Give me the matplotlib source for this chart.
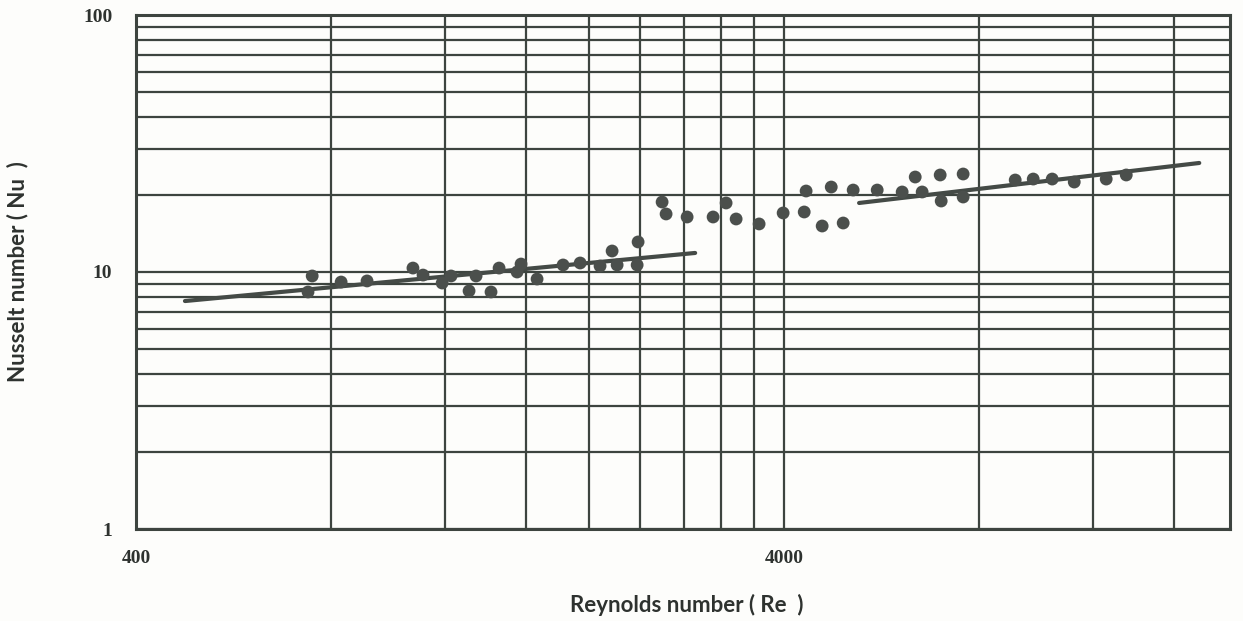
import numpy as np
import matplotlib
matplotlib.use("Agg")
import matplotlib.pyplot as plt
from matplotlib.ticker import FixedLocator, NullFormatter, FixedFormatter

# measured points (Re, Nu)
re_pts = [737, 748, 829, 909, 1070, 1109, 1187, 1225, 1306, 1339,
          1412, 1453, 1549, 1571, 1663, 1824, 1938, 2080, 2171, 2210,
          2381, 2373, 2593, 2630, 2834, 3108, 3255, 3373, 3660, 3986,
          4296, 4325, 4579, 4729, 4934, 5112, 5568, 6084, 6373, 6532,
          6964, 6989, 7556, 7556, 9091, 9692, 10368, 11213, 12561, 13489]
nu_pts = [8.36, 9.65, 9.14, 9.23, 10.36, 9.73, 9.06, 9.65, 8.44, 9.65,
          8.36, 10.36, 10.0, 10.74, 9.39, 10.65, 10.84, 10.55, 12.07, 10.65,
          13.09, 10.65, 18.72, 16.82, 16.37, 16.37, 18.56, 16.08, 15.38, 16.97,
          17.12, 20.66, 15.10, 21.41, 15.51, 20.84, 20.84, 20.48, 23.42, 20.48,
          23.85, 18.89, 24.06, 19.58, 22.80, 23.0, 23.0, 22.39, 23.0, 23.85]

# correlation lines, laminar and turbulent range
lam_re = [476, 2916]
lam_nu = [7.71, 11.86]
turb_re = [5221, 17482]
turb_nu = [18.56, 26.56]

x_major = [400, 4000]
x_minor = [800, 1200, 1600, 2000, 2400, 2800, 3200, 3600, 8000, 12000, 16000]
y_major = [1, 10, 100]

ink = '#3d443f'

fig = plt.figure(figsize=(12.43, 6.21), dpi=100)
fig.patch.set_facecolor('#fdfdfb')
ax = fig.add_axes([136/1243, 92/621, (1230-136)/1243, (529-15)/621])
ax.set_facecolor('#fdfdfb')

ax.set_xscale('log')
ax.set_yscale('log')
ax.set_xlim(400, 19500)
ax.set_ylim(1, 100)

ax.xaxis.set_major_locator(FixedLocator(x_major))
ax.xaxis.set_major_formatter(FixedFormatter([str(v) for v in x_major]))
ax.xaxis.set_minor_locator(FixedLocator(x_minor))
ax.xaxis.set_minor_formatter(NullFormatter())
ax.yaxis.set_major_locator(FixedLocator(y_major))
ax.yaxis.set_major_formatter(FixedFormatter([str(v) for v in y_major]))
ax.yaxis.set_minor_locator(FixedLocator([k * d for d in (1, 10) for k in range(2, 10)]))
ax.yaxis.set_minor_formatter(NullFormatter())

ax.grid(True, which='both', color=ink, lw=1.6)
ax.tick_params(which='both', length=0)
ax.tick_params(axis='y', pad=17)
ax.tick_params(axis='x', pad=15)
for lab in ax.get_xticklabels() + ax.get_yticklabels():
    lab.set_fontfamily('Liberation Serif')
    lab.set_fontweight('bold')
    lab.set_fontsize(14)
    lab.set_color('#2e322f')
for s in ax.spines.values():
    s.set_color(ink)
    s.set_linewidth(2.2)

ax.plot(lam_re, lam_nu, color='#444a46', lw=3, solid_capstyle='round', zorder=3)
ax.plot(turb_re, turb_nu, color='#444a46', lw=3, solid_capstyle='round', zorder=3)
ax.scatter(re_pts, nu_pts, s=85, color='#4b4f4c', edgecolors='none', zorder=4)

ax.set_xlabel('Reynolds number ( Re  )', fontfamily='Lato', fontweight='bold',
              fontsize=16, color='#2e322f')
ax.xaxis.set_label_coords(0.5037, -0.148)
ax.xaxis.label.set_va('center')
ax.set_ylabel('Nusselt number ( Nu  )', fontfamily='Lato', fontweight='bold',
              fontsize=16, color='#2e322f')
ax.yaxis.set_label_coords(-0.108, 0.5)
ax.yaxis.label.set_va('center')

plt.savefig('out.png', dpi=100, facecolor=fig.get_facecolor())
plt.close()
